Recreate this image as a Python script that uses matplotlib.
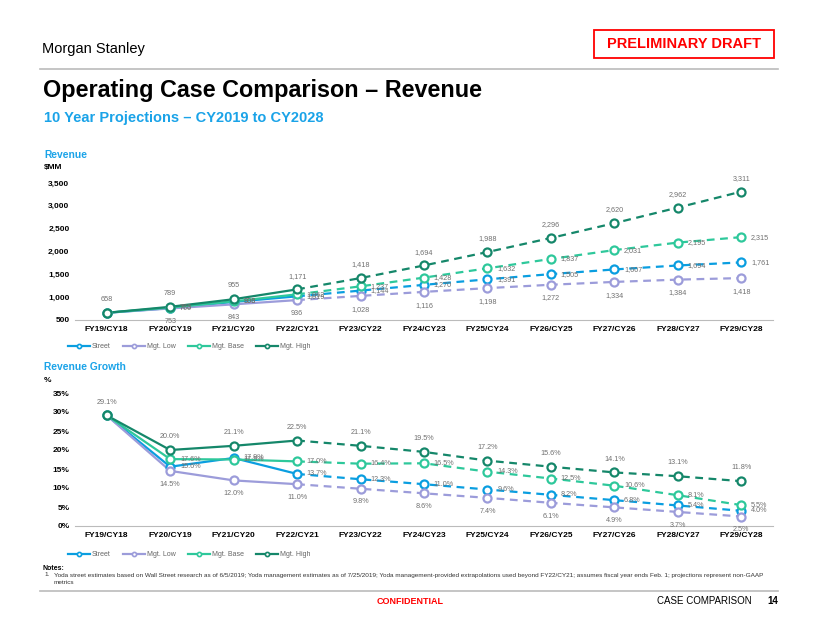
import matplotlib
matplotlib.use('Agg')
import matplotlib.pyplot as plt
from matplotlib.lines import Line2D
import numpy as np

plt.rcParams['font.family'] = ['Liberation Sans', 'DejaVu Sans']

# Data
years = ['FY19/CY18', 'FY20/CY19', 'FY21/CY20', 'FY22/CY21', 'FY23/CY22', 'FY24/CY23',
         'FY25/CY24', 'FY26/CY25', 'FY27/CY26', 'FY28/CY27', 'FY29/CY28']
series_names = ['Street', 'Mgt. Low', 'Mgt. Base', 'Mgt. High']

rev_street = [658, 760, 896, 1019, 1144, 1270, 1391, 1505, 1607, 1694, 1761]
rev_low = [658, 753, 843, 936, 1028, 1116, 1198, 1272, 1334, 1384, 1418]
rev_base = [658, 773, 908, 1062, 1237, 1428, 1632, 1837, 2031, 2195, 2315]
rev_high = [658, 789, 955, 1171, 1418, 1694, 1988, 2296, 2620, 2962, 3311]

gr_street = [29.1, 15.6, 17.9, 13.7, 12.3, 11.0, 9.6, 8.2, 6.8, 5.4, 4.0]
gr_low = [29.1, 14.5, 12.0, 11.0, 9.8, 8.6, 7.4, 6.1, 4.9, 3.7, 2.5]
gr_base = [29.1, 17.6, 17.5, 17.0, 16.4, 16.5, 14.3, 12.5, 10.6, 8.1, 5.5]
gr_high = [29.1, 20.0, 21.1, 22.5, 21.1, 19.5, 17.2, 15.6, 14.1, 13.1, 11.8]

colors = ['#0A9EE0', '#9C9CDA', '#2EC89B', '#15876A']
label_pos = ['right', 'below', 'right', 'above']
label_color = '#707070'

fig = plt.figure(figsize=(8.22, 6.35), dpi=100)

def fy(py):
    return 1 - py / 635.0

def fx(px):
    return px / 822.0

def draw_chart(ax, data_list, fmt, ylim, yticks, yfmt):
    x = np.arange(len(years))
    for vals, col, pos, name in zip(data_list, colors, label_pos, series_names):
        ax.plot(x[:4], vals[:4], color=col, lw=1.6, solid_capstyle='butt', zorder=2)
        ax.plot(x[3:], vals[3:], color=col, lw=1.6, ls=(0, (3.5, 2.5)), zorder=2)
        ax.plot(x, vals, ls='none', marker='o', ms=5.8, mfc='white', mec=col, mew=1.6, zorder=3)
        for i, v in enumerate(vals):
            if i == 0:
                if name != 'Mgt. High':
                    continue
                off, ha, va = (0, 7), 'center', 'bottom'
            elif pos == 'above':
                off, ha, va = (0, 7), 'center', 'bottom'
            elif pos == 'below':
                off, ha, va = (0, -7), 'center', 'top'
            else:
                off, ha, va = (7, 0), 'left', 'center'
            ax.annotate(fmt(v), (i, v), xytext=off, textcoords='offset points',
                        ha=ha, va=va, fontsize=5.2, color=label_color, zorder=4)
    ax.set_xlim(-0.5, len(years) - 0.5)
    ax.set_ylim(*ylim)
    ax.set_yticks(yticks)
    ax.set_yticklabels([yfmt(t) for t in yticks], fontsize=6, fontweight='bold')
    ax.set_xticks(x)
    ax.set_xticklabels(years, fontsize=6, fontweight='bold')
    ax.tick_params(length=0, pad=4)
    for s in ['top', 'right', 'left']:
        ax.spines[s].set_visible(False)
    ax.spines['bottom'].set_color('#BBBBBB')
    ax.spines['bottom'].set_linewidth(0.8)
    ax.patch.set_alpha(0)

def add_legend(ax, ypix):
    handles = [Line2D([0], [0], color=c, lw=1.6, marker='o', ms=3, mfc='white', mec=c, mew=1.2)
               for c in colors]
    ax.legend(handles, series_names, loc='center left', bbox_to_anchor=(fx(62), fy(ypix)),
              bbox_transform=fig.transFigure, ncol=4, frameon=False, fontsize=5,
              handlelength=3.2, handletextpad=0.2, columnspacing=1.8,
              labelcolor='#666666')

# Revenue chart
ax1 = fig.add_axes([fx(75), fy(320), fx(773) - fx(75), fy(183) - fy(320)])
draw_chart(ax1, [rev_street, rev_low, rev_base, rev_high], lambda v: f'{v:,.0f}',
           (500, 3500), np.arange(500, 3501, 500), lambda t: f'{t:,.0f}')
add_legend(ax1, 347)

# Growth chart
ax2 = fig.add_axes([fx(75), fy(526), fx(773) - fx(75), fy(393) - fy(526)])
draw_chart(ax2, [gr_street, gr_low, gr_base, gr_high], lambda v: f'{v:.1f}%',
           (0, 35), np.arange(0, 36, 5), lambda t: f'{t:.0f}%')
add_legend(ax2, 555)

# Header
fig.text(fx(42), fy(49), 'Morgan Stanley', fontsize=10.5, va='center', ha='left',
         family=['Liberation Sans Narrow', 'Liberation Sans'])
fig.patches.append(plt.Rectangle((fx(594), fy(58)), fx(774) - fx(594), fy(30) - fy(58),
                                 transform=fig.transFigure, fill=False, ec='#FF0000', lw=1.3))
fig.text(fx(684), fy(44), 'PRELIMINARY DRAFT', fontsize=10.5, fontweight='bold',
         color='#FF0000', ha='center', va='center')
fig.add_artist(Line2D([fx(40), fx(778)], [fy(69), fy(69)], color='#BBBBBB', lw=1.2,
                      transform=fig.transFigure))
fig.text(fx(43), fy(91), 'Operating Case Comparison \u2013 Revenue', fontsize=16.8,
         fontweight='bold', ha='left', va='center')
fig.text(fx(44), fy(118), '10 Year Projections \u2013 CY2019 to CY2028', fontsize=10.5,
         fontweight='bold', color='#1AA3E8', ha='left', va='center')

fig.text(fx(44), fy(155), 'Revenue', fontsize=7.4, fontweight='bold', color='#1AA3E8',
         ha='left', va='center')
fig.text(fx(44), fy(168), '$MM', fontsize=6, fontweight='bold', ha='left', va='center')
fig.text(fx(44), fy(367), 'Revenue Growth', fontsize=7.4, fontweight='bold', color='#1AA3E8',
         ha='left', va='center')
fig.text(fx(44), fy(380), '%', fontsize=6, fontweight='bold', ha='left', va='center')

# Notes
fig.text(fx(42), fy(568), 'Notes:', fontsize=5, fontweight='bold', ha='left', va='center')
fig.text(fx(44), fy(575), '1.', fontsize=4.6, ha='left', va='center', color='#333333')
fig.text(fx(54), fy(575), 'Yoda street estimates based on Wall Street research as of 6/5/2019; '
         'Yoda management estimates as of 7/25/2019; Yoda management-provided extrapolations '
         'used beyond FY22/CY21; assumes fiscal year ends Feb. 1; projections represent non-GAAP',
         fontsize=4.6, ha='left', va='center', color='#333333')
fig.text(fx(54), fy(582), 'metrics', fontsize=4.6, ha='left', va='center', color='#333333')

# Footer
fig.add_artist(Line2D([fx(40), fx(778)], [fy(591), fy(591)], color='#BBBBBB', lw=1.2,
                      transform=fig.transFigure))
fig.text(fx(410), fy(601), 'CONFIDENTIAL', fontsize=6.5, fontweight='bold', color='#FF0000',
         ha='center', va='center')
fig.text(fx(752), fy(601), 'CASE COMPARISON', fontsize=7, ha='right', va='center')
fig.text(fx(778), fy(601), '14', fontsize=7, fontweight='bold', ha='right', va='center')

plt.savefig('out.png', dpi=100)
